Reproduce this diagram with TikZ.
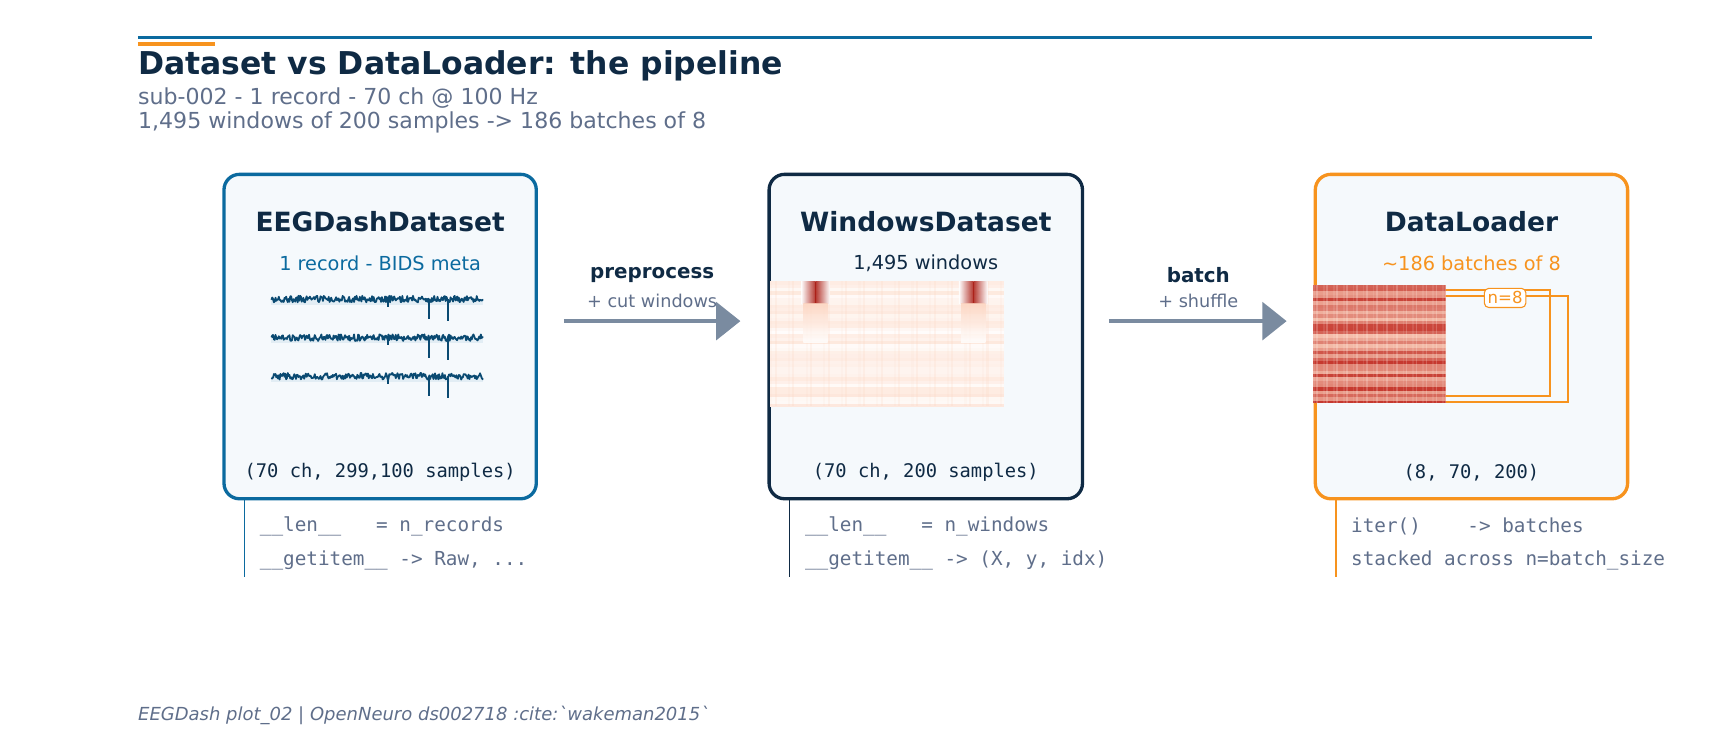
\documentclass[tikz,border=0pt]{standalone}
\usepackage{fontspec}
\setmainfont{DejaVu Sans}
\setmonofont{DejaVu Sans Mono}
\usetikzlibrary{arrows.meta}
\definecolor{navy}{HTML}{0F2A44}
\definecolor{cblue}{HTML}{0B6A9F}
\definecolor{corange}{HTML}{F7931E}
\definecolor{cgrey}{HTML}{5F6E8A}
\definecolor{arrowc}{HTML}{7A8BA0}
\definecolor{boxfill}{HTML}{F5F9FC}
\definecolor{trace}{HTML}{0A4A72}
\definecolor{hot}{HTML}{C0281F}
\definecolor{peach}{HTML}{FCD3BE}
\begin{document}
\begin{tikzpicture}[x=1pt,y=-1pt,
  stage/.style={draw,line width=3pt,rounded corners=14pt,fill=boxfill},
  ttl/.style={font=\fontsize{24}{28}\selectfont\bfseries,text=navy},
  sub/.style={font=\fontsize{17.5}{20}\selectfont},
  shp/.style={font=\ttfamily\fontsize{17}{20}\selectfont,text=navy},
  api/.style={font=\ttfamily\fontsize{17.5}{20}\selectfont,text=cgrey,anchor=west},
  flow/.style={draw=arrowc,line width=4pt,-{Triangle[length=22pt,width=34pt]}},
  alab/.style={font=\fontsize{18}{20}\selectfont\bfseries,text=navy},
  aslab/.style={font=\fontsize{16}{19}\selectfont,text=cgrey}]
\useasboundingbox (0,0) rectangle (1566,667);
\pgfmathsetseed{7}
% header
\draw[cblue,line width=3pt] (125,34) -- (1443,34);
\draw[corange,line width=3.5pt] (125,39.5) -- (195,39.5);
\node[anchor=west,inner sep=0pt,font=\fontsize{28.5}{30}\selectfont\bfseries,text=navy] (title) at (125,60) {Dataset vs DataLoader: the pipeline};
\node[anchor=west,inner sep=0pt,font=\fontsize{20}{23}\selectfont,text=cgrey] (s1) at (125,89) {sub-002 - 1 record - 70 ch @ 100 Hz};
\node[anchor=west,inner sep=0pt,font=\fontsize{20}{23}\selectfont,text=cgrey] (s2) at (125,111) {1,495 windows of 200 samples -> 186 batches of 8};
% boxes
\node[stage,draw=cblue,minimum width=283pt,minimum height=294pt] (b1) at (344.5,305) {};
\node[stage,draw=navy,minimum width=284pt,minimum height=294pt] (b2) at (839,305) {};
\node[stage,draw=corange,minimum width=283pt,minimum height=294pt] (b3) at (1333.5,305) {};
\node[ttl] (t1) at (344.5,201) {EEGDashDataset};
\node[ttl] (t2) at (839,201) {WindowsDataset};
\node[ttl] (t3) at (1333.5,201) {DataLoader};
\node[sub,text=cblue] (u1) at (344.5,239) {1 record - BIDS meta};
\node[sub,text=navy] (u2) at (839,239) {1,495 windows};
\node[sub,text=corange] (u3) at (1333.5,239) {\textasciitilde186 batches of 8};
\node[shp] (h1) at (344.5,428) {(70 ch, 299,100 samples)};
\node[shp] (h2) at (839,428) {(70 ch, 200 samples)};
\node[shp] (h3) at (1333.5,428) {(8, 70, 200)};
% EEG traces
\foreach \yy in {271,306,341}{
  \fill[cblue!12] (246,\yy) rectangle (438,\yy+5);
  \draw[trace,line width=1.6pt,line join=round] plot[domain=246:438,samples=260] (\x,{\yy+3*rand});
  \draw[trace,line width=1.8pt] (389,\yy) -- (389,\yy+18) (406,\yy) -- (406,\yy+20) (352,\yy) -- (352,\yy+7);
}
% windows heatmap
\begin{scope}
\clip (698,255) rectangle (910,368);
\fill[peach!20] (698,255) rectangle (910,368);
\foreach \r in {0,...,37}{
  \pgfmathsetmacro{\a}{abs(rand)*55}
  \fill[peach!\a] (698,255+\r*3) rectangle (910,258+\r*3);
}
\foreach \c in {0,...,52}{
  \fill[peach,opacity=0.\the\numexpr 1+\c-\c/4*4\relax] (698+\c*4,255) rectangle (700+\c*4,368);
}
\shade[left color=peach!0,right color=hot!90!black,opacity=0.9] (726,255) rectangle (739,275);
\shade[left color=hot!90!black,right color=peach!0,opacity=0.9] (739,255) rectangle (752,275);
\shade[top color=peach,bottom color=peach!0,opacity=0.8] (728,275) rectangle (750,310);
\shade[left color=peach!0,right color=hot!90!black,opacity=0.9] (869,255) rectangle (882,275);
\shade[left color=hot!90!black,right color=peach!0,opacity=0.9] (882,255) rectangle (895,275);
\shade[top color=peach,bottom color=peach!0,opacity=0.8] (871,275) rectangle (893,310);
\end{scope}
% batch stack
\draw[corange,line width=1.8pt] (1300,268) rectangle (1421,364);
\draw[corange,line width=1.8pt] (1300,263) rectangle (1405,359);
\begin{scope}
\clip (1190,258) rectangle (1310,365);
\fill[peach] (1190,258) rectangle (1310,365);
\foreach \r in {0,...,35}{
  \pgfmathsetmacro{\a}{10+abs(rand)*80}
  \fill[hot!\a!peach] (1190,258+\r*3) rectangle (1310,261+\r*3);
}
\foreach \c in {0,...,39}{
  \fill[white,opacity=0.\the\numexpr 1+\c-\c/3*3\relax] (1190+\c*3,258) rectangle (1191.5+\c*3,365);
}
\end{scope}
\node[draw=corange,fill=white,rounded corners=4pt,line width=1pt,inner sep=3pt,text=corange,font=\fontsize{15}{18}\selectfont] (n8) at (1364,270) {n=8};
% arrows
\coordinate (a1s) at (511,291); \coordinate (a1e) at (671,291);
\coordinate (a2s) at (1005,291); \coordinate (a2e) at (1166,291);
\draw[flow] (a1s) -- (a1e);
\draw[flow] (a2s) -- (a2e);
\node[alab] (p1) at (591,249) {preprocess};
\node[aslab] (p2) at (591,273) {+ cut windows};
\node[alab] (q1) at (1086,249) {batch};
\node[aslab] (q2) at (1086,273) {+ shuffle};
% API notes
\draw[cblue,line width=1.5pt] (b1.south west) ++(20,0) -- ++(0,69);
\draw[navy,line width=1.5pt] (b2.south west) ++(20,0) -- ++(0,69);
\draw[corange,line width=1.5pt] (b3.south west) ++(20,0) -- ++(0,69);
\node[api] (l1) at (232,477) {\_\_len\_\_\ \ \ = n\_records};
\node[api] (l2) at (232,508) {\_\_getitem\_\_ -> Raw, ...};
\node[api] (m1) at (726,477) {\_\_len\_\_\ \ \ = n\_windows};
\node[api] (m2) at (726,508) {\_\_getitem\_\_ -> (X, y, idx)};
\node[api] (r1) at (1221,477) {iter()\ \ \ \ -> batches};
\node[api] (r2) at (1221,508) {stacked across n=batch\_size};
% footer
\node[anchor=west,inner sep=0pt,font=\fontsize{16.3}{20}\selectfont\itshape,text=cgrey] (foot) at (125,648) {EEGDash plot\_02 | OpenNeuro ds002718 :cite:\textasciigrave wakeman2015\textasciigrave};
\end{tikzpicture}
\end{document}
